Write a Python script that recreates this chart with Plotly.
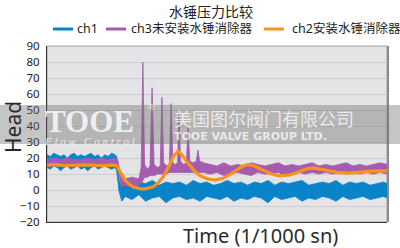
import plotly.graph_objects as go

# ---------------- data (time in 1/1000 s, head values) ----------------
# ch1: noisy band (upper / lower envelopes)
ch1_t = [0, 10, 20, 30, 40, 50, 60, 70, 80, 90, 100, 110, 120, 130, 140, 150, 160, 170, 180, 190, 200,
         205, 212, 220,
         230, 250, 270, 290, 310, 330, 350, 370, 390, 410, 430, 450, 470, 490, 510, 530, 550, 570, 590,
         610, 630, 650, 670, 690, 710, 730, 750, 770, 790, 810, 830, 850, 870, 890, 910, 930, 950, 970, 990, 1000]
ch1_hi = [22, 21, 23, 22, 21, 22, 20, 22, 23, 21, 22, 21, 22, 23, 21, 22, 20, 22, 21, 23, 22,
          21, 6, 3,
          4, 3, 5, 4, 6, 3, 5, 4, 5, 3, 6, 4, 5, 3, 4, 6, 4, 5, 3,
          5, 4, 6, 3, 5, 4, 5, 6, 3, 4, 5, 4, 6, 3, 5, 4, 5, 3, 4, 5, 4]
ch1_lo = [14, 13, 15, 14, 12, 14, 15, 13, 14, 15, 13, 14, 12, 14, 15, 13, 14, 15, 14, 13, 14,
          12, -1, -7,
          -4, -6, -3, -7, -5, -4, -8, -5, -4, -6, -5, -7, -4, -5, -6, -4, -7, -5, -6,
          -4, -5, -8, -4, -6, -5, -4, -7, -5, -6, -4, -5, -7, -4, -6, -5, -4, -6, -5, -4, -5]

# ch3 (no water hammer arrester): band with pressure spikes
ch3_t = [0, 20, 40, 60, 80, 100, 120, 140, 160, 180, 200,
         208, 218, 230, 250, 270, 277, 282, 287, 295, 303, 309, 315, 325, 333, 338, 343, 352, 360, 365,
         370, 378, 384, 388, 393, 402, 410, 415, 420, 430, 439, 444, 449, 460,
         480, 500, 520, 540, 560, 580, 600, 620, 640, 660, 680, 700, 720, 740, 760, 780, 800, 820,
         840, 860, 880, 900, 920, 940, 960, 980, 1000]
ch3_hi = [19, 20, 19, 20, 19, 19, 20, 19, 20, 19, 20,
          19, 8, 7, 8, 7, 14, 80, 16, 13, 15, 64, 16, 14, 15, 58, 17, 15, 16, 54,
          17, 16, 17, 47.5, 18, 16, 17, 39, 18, 17, 18, 25, 18, 17,
          16, 15, 17, 15, 16, 15, 17, 16, 15, 16, 17, 15, 16, 15, 16, 17, 15, 16,
          15, 16, 17, 15, 16, 15, 16, 17, 16]
ch3_lo = [16, 15, 16, 15, 16, 15, 16, 15, 16, 15, 16,
          14, 2, 3, 2, 3, 4, 6, 8, 8, 9, 9, 9, 10, 10, 10, 10, 10, 11, 11,
          11, 11, 11, 11, 11, 11, 11, 11, 11, 11, 11, 11, 11, 11,
          10, 11, 9, 10, 11, 10, 9, 11, 10, 10, 11, 9, 10, 11, 10, 11, 10, 11,
          10, 11, 10, 11, 10, 11, 10, 11, 10]

# ch2 (with water hammer arrester): damped oscillation
ch2_t = [0, 25, 50, 75, 100, 125, 150, 175, 200,
         205, 215, 229, 240, 253, 270, 282, 295, 312, 325, 341, 352, 362, 372, 385, 397, 408, 420,
         435, 450, 470, 494, 518, 540, 559, 575, 591, 610, 635, 660, 685, 715, 735, 760, 782, 810,
         835, 860, 885, 915, 950, 1000]
ch2_y = [15.5, 15.8, 15.3, 15.6, 15.4, 15.7, 15.3, 15.6, 15.5,
         15, 11, 6.3, 4, 2, 1, 0.6, 1, 2, 4, 8, 12, 16.6, 21, 24.3, 22, 18.5, 15.5,
         11.5, 9, 7, 6.2, 7.3, 10, 12.5, 14.8, 16, 15, 12.5, 10, 8.8, 9.4, 11, 13, 13.8, 13,
         11.8, 10.8, 10.6, 11, 11.8, 12]

y_ticks = [-20, -10, 0, 10, 20, 30, 40, 50, 60, 70, 80, 90]

series_names = ["ch1", "ch3未安装水锤消除器", "ch2安装水锤消除器"]

BLUE = "#0a84c8"
PURPLE = "#a55cae"
ORANGE = "#f7931e"
series_colors = [BLUE, PURPLE, ORANGE]

FONT = "Noto Sans, Noto Sans CJK SC, sans-serif"

fig = go.Figure()

fig.add_trace(go.Scatter(
    x=ch1_t + ch1_t[::-1], y=ch1_hi + ch1_lo[::-1], fill="toself",
    fillcolor=BLUE, line=dict(color=BLUE, width=0.8), mode="lines",
    name=series_names[0], showlegend=False, hoverinfo="skip"))
fig.add_trace(go.Scatter(
    x=ch3_t + ch3_t[::-1], y=ch3_hi + ch3_lo[::-1], fill="toself",
    fillcolor=PURPLE, line=dict(color=PURPLE, width=0.8), mode="lines",
    name=series_names[1], showlegend=False, hoverinfo="skip"))
fig.add_trace(go.Scatter(
    x=ch2_t, y=ch2_y, mode="lines", line=dict(color=ORANGE, width=3.2),
    name=series_names[2], showlegend=False))

W, H = 400, 248
L, R, T, B = 47, 13, 46, 26
pw, ph = W - L - R, H - T - B


def px(xp):
    return (xp - L) / pw


def py(yp):
    return (H - B - yp) / ph


annotations = [
    dict(text="Time (1/1000 sn)", x=px(260), y=py(235), xref="paper", yref="paper",
         showarrow=False, font=dict(size=20, color="#2a2a2a", family="Noto Sans"),
         xanchor="center", yanchor="middle"),
    dict(text="Head", x=px(13), y=py(127), xref="paper", yref="paper", textangle=-90,
         showarrow=False, font=dict(size=21, color="#2a2a2a", family="Noto Sans"),
         xanchor="center", yanchor="middle"),
    # watermark texts
    dict(text="<span style='font-size:31px'><b>TOOE</b></span><br>"
              "<span style='font-size:11px'><i>F l o w   C o n t r o l</i></span>",
         x=px(42), y=py(125), xref="paper", yref="paper", align="left",
         showarrow=False, font=dict(size=10, color="rgba(255,255,255,0.8)", family="Liberation Serif"),
         xanchor="left", yanchor="middle"),
    dict(text="®", x=px(146), y=py(108), xref="paper", yref="paper",
         showarrow=False, font=dict(size=9, color="rgba(255,255,255,0.8)", family="Liberation Sans"),
         xanchor="left", yanchor="middle"),
    dict(text="<span style='font-family:Noto Sans CJK SC;font-size:18px'>美国图尔阀门有限公司</span><br>"
              "<b>TOOE VALVE GROUP LTD.</b>",
         x=px(172), y=py(124), xref="paper", yref="paper", align="left",
         showarrow=False, font=dict(size=11, color="rgba(255,255,255,0.72)", family="DejaVu Sans"),
         xanchor="left", yanchor="middle"),
]

shapes = [
    dict(type="rect", xref="paper", yref="paper", x0=0, x1=1, y0=0, y1=1,
         line=dict(color="#a0a0a0", width=1), layer="below"),
    dict(type="line", xref="paper", yref="paper", x0=1 + 1 / pw, x1=1 + 1 / pw, y0=0, y1=1,
         line=dict(color="#8a8a8a", width=2), layer="above"),
    dict(type="rect", xref="paper", yref="paper", x0=px(0), x1=px(400), y0=py(144), y1=py(105),
         fillcolor="rgba(110,110,110,0.4)", line=dict(width=0), layer="above"),
]

# manual legend (line swatch + label)
legend_line_x = [(53, 73), (106, 126), (264, 284)]
legend_text_x = [75, 129, 290]
for name, col, (a, b), tx in zip(series_names, series_colors, legend_line_x, legend_text_x):
    shapes.append(dict(type="line", xref="paper", yref="paper", x0=px(a), x1=px(b),
                       y0=py(29), y1=py(29), line=dict(color=col, width=3)))
    annotations.append(dict(text=name, x=px(tx), y=py(29), xref="paper", yref="paper",
                            showarrow=False, xanchor="left", yanchor="middle",
                            font=dict(size=12.5, color="#222", family=FONT)))

fig.update_layout(
    width=W, height=H,
    margin=dict(l=L, r=R, t=T, b=B, pad=0),
    paper_bgcolor="white", plot_bgcolor="#e4e4e6",
    font=dict(family=FONT, color="#222"),
    title=dict(text="水锤压力比较", x=211 / W, y=1 - 12 / H, xanchor="center", yanchor="middle",
               font=dict(size=14, color="#222", family=FONT)),
    showlegend=False,
    xaxis=dict(range=[0, 1000], showticklabels=False, showgrid=False, zeroline=False,
               showline=True, linecolor="#333", linewidth=1, ticks=""),
    yaxis=dict(range=[-20, 90], tickvals=y_ticks, showgrid=True, gridcolor="#cdcdcf",
               gridwidth=1, zeroline=False, showline=True, linecolor="#333", linewidth=1,
               ticks="", tickfont=dict(size=11.5, color="#222", family=FONT),
               ticklabelstandoff=4),
    annotations=annotations,
    shapes=shapes,
)

fig.write_html("out.html")
